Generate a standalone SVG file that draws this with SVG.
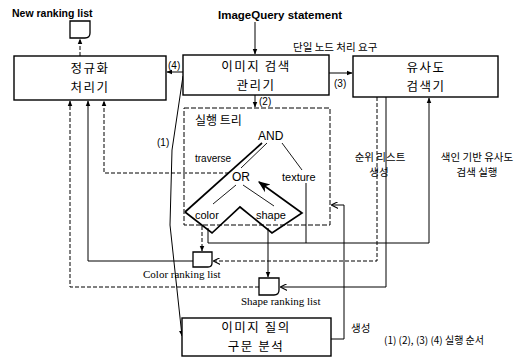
<svg xmlns="http://www.w3.org/2000/svg" width="528" height="359" viewBox="0 0 528 359">
<defs>
<marker id="ah" viewBox="0 0 10 10" refX="9" refY="5" markerWidth="6" markerHeight="6" orient="auto-start-reverse" markerUnits="userSpaceOnUse"><path d="M0,1 L10,5 L0,9 Z" fill="#000"/></marker>
<marker id="oh" viewBox="0 0 10 10" refX="9" refY="5" markerWidth="7" markerHeight="7" orient="auto" markerUnits="userSpaceOnUse"><path d="M0,0 L10,5 L0,10" fill="none" stroke="#000" stroke-width="1.5"/></marker>
<marker id="big" viewBox="0 0 10 10" refX="9" refY="5" markerWidth="12" markerHeight="12" orient="auto" markerUnits="userSpaceOnUse"><path d="M0,1 L10,5 L0,9 L3,5 Z" fill="#000"/></marker>
</defs>
<style>
.box{fill:#fff;stroke:#000;stroke-width:1.4}
.doc{fill:#fff;stroke:#000;stroke-width:1.3}
.ln{fill:none;stroke:#000;stroke-width:1}
.dl{fill:none;stroke:#000;stroke-width:1;stroke-dasharray:4,2}
.tr{fill:none;stroke:#000;stroke-width:0.9}
.tk{fill:none;stroke:#000;stroke-width:1.7}
.ko{font-family:"Noto Sans CJK KR","Liberation Sans",sans-serif;fill:#000}
.bx{font-size:12.5px;letter-spacing:1.5px}
.en{font-family:"Liberation Sans",Arial,sans-serif;fill:#000}
.sf{font-family:"Liberation Serif","Times New Roman",serif;fill:#000}
</style>
<rect width="528" height="359" fill="#fff"/>

<g id="connectors">
<line class="ln" x1="255" y1="22" x2="255" y2="54" marker-end="url(#ah)"/>
<line class="dl" x1="80" y1="56" x2="80" y2="39" marker-end="url(#ah)"/>
<line class="ln" x1="183" y1="72" x2="167" y2="72" marker-end="url(#ah)"/>
<line class="ln" x1="329" y1="73" x2="352" y2="73" marker-end="url(#ah)"/>
<line class="ln" x1="255" y1="95" x2="255" y2="107" marker-end="url(#ah)"/>
<path class="ln" d="M183,76 L172,150 L170,225 L182,336" marker-end="url(#ah)"/>
<path class="ln" d="M331,339 H344 V205 H332" marker-end="url(#oh)"/>
<path class="ln" d="M306,183 V243"/>
<path class="ln" d="M208,228 V243 H429 V98" marker-end="url(#ah)"/>
<path class="dl" d="M377,97 V261 H214" marker-end="url(#oh)"/>
<path class="ln" d="M386,97 V287 H281" marker-end="url(#oh)"/>
<line class="dl" x1="202" y1="226" x2="202" y2="251" marker-end="url(#ah)"/>
<line class="ln" x1="268" y1="228" x2="268" y2="277" marker-end="url(#ah)"/>
<path class="ln" d="M193,261 H88 V101" marker-end="url(#ah)"/>
<path class="dl" d="M259,287 H70 V101" marker-end="url(#ah)"/>
<path class="dl" d="M229,173 H104 V101" marker-end="url(#ah)"/>
<text class="en" x="168" y="69" font-size="10">(4)</text>
<text class="en" x="334" y="87" font-size="10">(3)</text>
<text class="en" x="259" y="105" font-size="10">(2)</text>
<text class="en" x="157" y="146" font-size="10">(1)</text>
<text class="ko" x="293" y="51" font-size="10.5">단일 노드 처리 요구</text>
<text class="ko" x="380" y="161" font-size="10.5" text-anchor="middle">순위 리스트</text>
<text class="ko" x="379" y="176" font-size="10.5" text-anchor="middle">생성</text>
<text class="ko" x="477" y="161" font-size="10.5" text-anchor="middle">색인 기반 유사도</text>
<text class="ko" x="477" y="176" font-size="10.5" text-anchor="middle">검색 실행</text>
<text class="ko" x="351" y="332" font-size="10.5">생성</text>
</g>

<g id="top-labels">
<text class="en" x="12" y="17" font-size="10.5" font-weight="bold">New ranking list</text>
<text class="en" x="218" y="19" font-size="11.5" font-weight="bold">ImageQuery statement</text>
</g>

<g id="doc-new">
<path class="doc" d="M70,21 H90 V33 Q90,38 85,38 H70 Z"/>
</g>

<g id="norm">
<rect class="box" x="14" y="56" width="152" height="44"/>
<text class="ko bx" x="90" y="73" text-anchor="middle">정규화</text>
<text class="ko bx" x="90" y="92" text-anchor="middle">처리기</text>
</g>

<g id="manager">
<rect class="box" x="183" y="55" width="146" height="40"/>
<text class="ko bx" x="256" y="71" text-anchor="middle">이미지 검색</text>
<text class="ko bx" x="256" y="90" text-anchor="middle">관리기</text>
</g>

<g id="similarity">
<rect class="box" x="353" y="56" width="145" height="41"/>
<text class="ko bx" x="426" y="72" text-anchor="middle">유사도</text>
<text class="ko bx" x="426" y="91" text-anchor="middle">검색기</text>
</g>

<g id="tree">
<rect x="184" y="108" width="146" height="117" fill="none" stroke="#000" stroke-width="1" stroke-dasharray="5,2"/>
<text class="ko" x="195" y="125" font-size="12">실행 트리</text>
<line class="tk" x1="185" y1="212" x2="262" y2="143"/>
<line class="tr" x1="267" y1="143" x2="241" y2="168"/>
<line class="tr" x1="282" y1="143" x2="302" y2="170"/>
<line class="tr" x1="236" y1="185" x2="213" y2="204"/>
<line class="tr" x1="243" y1="185" x2="274" y2="206"/>
<path class="tk" d="M185,212 L212,233 L240,207 L272,233 L302,213 L259,182" marker-end="url(#big)"/>
<text class="en" x="258" y="140" font-size="12">AND</text>
<text class="en" x="195" y="162" font-size="10">traverse</text>
<text class="en" x="232" y="181" font-size="12">OR</text>
<text class="en" x="282" y="181" font-size="11">texture</text>
<text class="en" x="195" y="219" font-size="11">color</text>
<text class="en" x="256" y="219" font-size="11">shape</text>
</g>

<g id="color-list">
<path class="doc" d="M193,252 H212 V263 Q212,267 208,267 H193 Z"/>
<text class="sf" x="143" y="278" font-size="11">Color ranking list</text>
</g>

<g id="shape-list">
<path class="doc" d="M259,278 H279 V290 Q279,295 274,295 H259 Z"/>
<text class="sf" x="241" y="305" font-size="11">Shape ranking list</text>
</g>

<g id="parser">
<rect class="box" x="182" y="318" width="149" height="38"/>
<text class="ko bx" x="256" y="332" text-anchor="middle">이미지 질의</text>
<text class="ko bx" x="256" y="351" text-anchor="middle">구문 분석</text>
</g>

<g id="legend">
<text class="ko" x="384" y="344" font-size="10">(1) (2), (3) (4)  실행 순서</text>
</g>
</svg>
